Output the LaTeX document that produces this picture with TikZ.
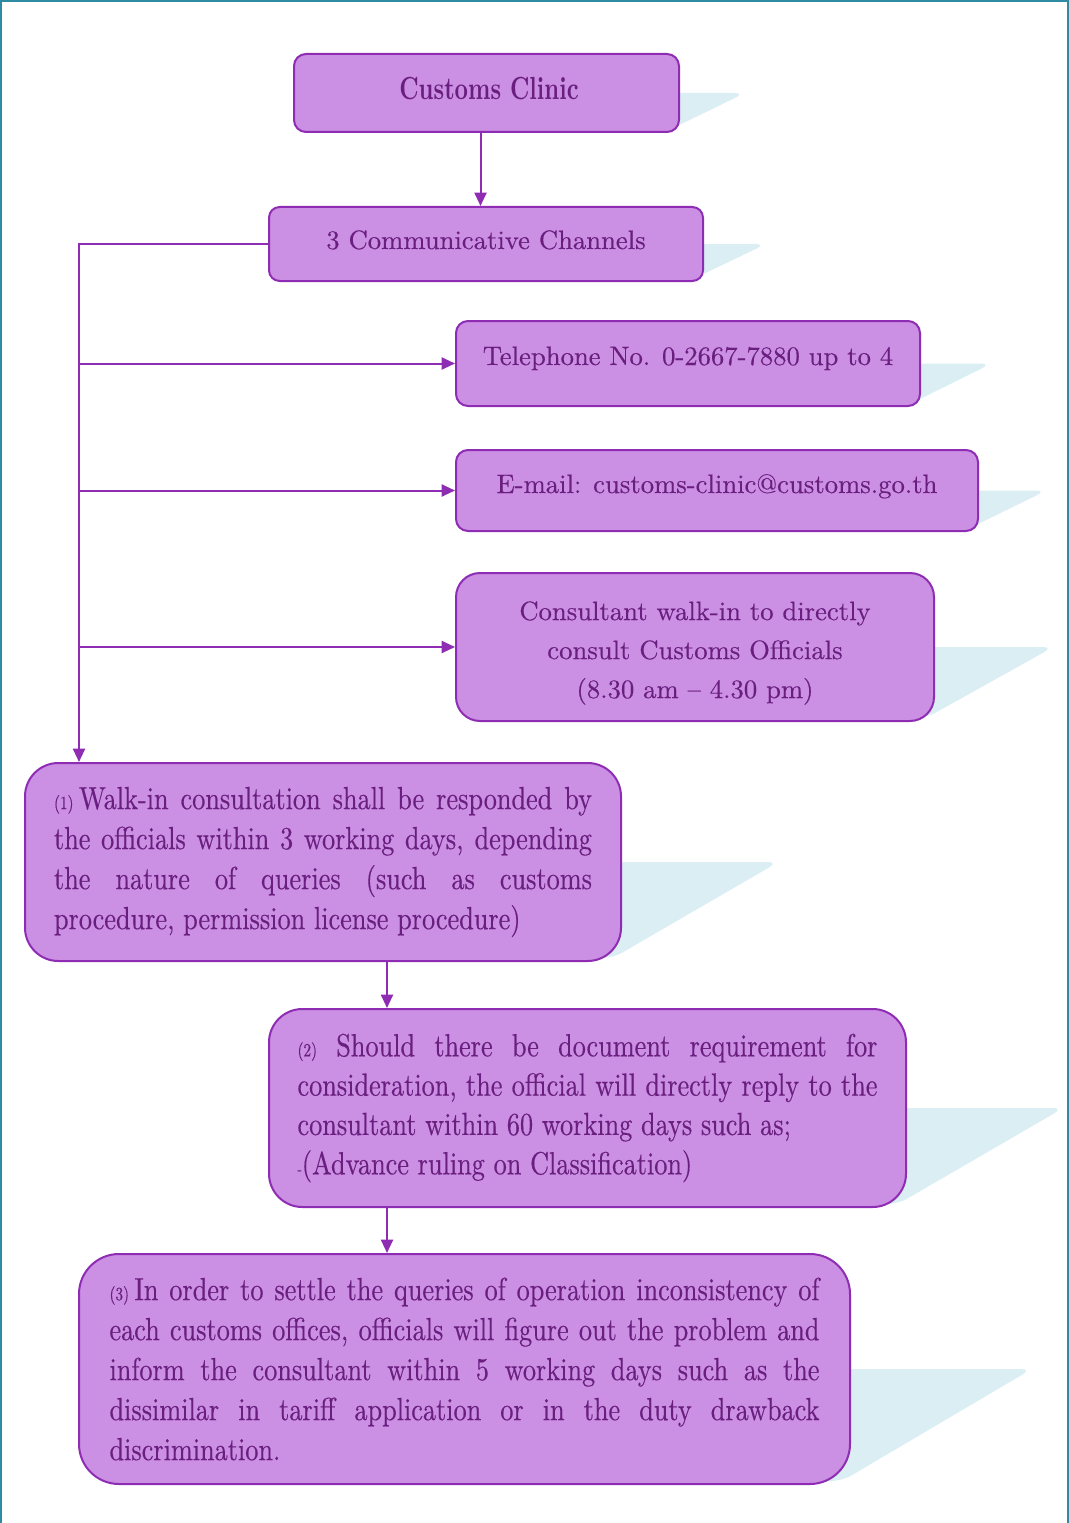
\documentclass[tikz,border=0pt]{standalone}
\usepackage{fontspec}
\setmainfont{lmroman10-regular.otf}[BoldFont=lmroman10-bold.otf, FakeBold=0.35]
\newfontfamily\condf{lmroman10-regular.otf}[FakeStretch=0.82, FakeBold=0.35]
\newfontfamily\titlef{lmroman10-bold.otf}[FakeStretch=0.73]
\usetikzlibrary{arrows.meta}
\definecolor{boxfill}{HTML}{CB8FE3}
\definecolor{boxline}{HTML}{8E2DB3}
\definecolor{boxtext}{HTML}{6A1F80}
\definecolor{shadowc}{HTML}{DBEEF4}
\definecolor{framec}{HTML}{2E8BA3}
\newcommand\shadowfor[4]{% xR, yMid, yBottom, H
  \fill[shad] (#1-60,#2) -- (#1+0.76*#4+7,#2) -- (#1-8,#3-3) -- (#1-60,#3-3) -- cycle;}
\begin{document}
\begin{tikzpicture}[x=0.75pt,y=-0.75pt,
  box/.style={draw=boxline, fill=boxfill, line width=1.5pt, text=boxtext, inner sep=0pt, align=center},
  lbl/.style={text=boxtext, inner sep=0pt, align=center},
  arr/.style={draw=boxline, line width=1.5pt, -{Triangle[length=10pt,width=9pt]}},
  shad/.style={fill=shadowc, rounded corners=8pt},
  bodytext/.style={font=\fontsize{20}{29.25}\selectfont},
  longtext/.style={font=\condf\fontsize{24}{#1}\selectfont, align=justify}]
\useasboundingbox (0,0) rectangle (1069,1523);
\draw[framec, line width=1.5pt] (0.9,1523) -- (0.9,0.9) -- (1068.1,0.9) -- (1068.1,1523);

% shadows
\shadowfor{679}{93}{132}{78}
\shadowfor{703}{244}{281}{74}
\shadowfor{920}{363.5}{406}{85}
\shadowfor{978}{490.5}{531}{81}
\shadowfor{934}{647}{721}{148}
\shadowfor{621}{862}{961}{198}
\shadowfor{906}{1108}{1207}{198}
\shadowfor{850}{1369}{1484}{230}

% boxes
\node[box, rounded corners=9pt, minimum width=385*0.75pt, minimum height=78*0.75pt] (cc) at (486.5,93) {};
\node[lbl, anchor=base, font=\titlef\fontsize{24}{28}\selectfont] (cct) at (489,100) {Customs Clinic};
\node[box, rounded corners=8pt, minimum width=434*0.75pt, minimum height=74*0.75pt] (ch) at (486,244) {};
\node[lbl, bodytext, anchor=base] (cht) at (486,249) {3 Communicative Channels};
\node[box, rounded corners=9pt, minimum width=464*0.75pt, minimum height=85*0.75pt] (tel) at (688,363.5) {};
\node[lbl, bodytext, anchor=base] (telt) at (688,365) {Telephone No. 0-2667-7880 up to 4};
\node[box, rounded corners=9pt, minimum width=522*0.75pt, minimum height=81*0.75pt] (mail) at (717,490.5) {};
\node[lbl, bodytext, anchor=base] (mailt) at (717,493) {E-mail: customs-clinic@customs.go.th};
\node[box, rounded corners=18pt, minimum width=478*0.75pt, minimum height=148*0.75pt] (walk) at (695,647) {};
\node[lbl, bodytext] (walkt) at (695,653)
  {Consultant walk-in to directly\\consult Customs Officials\\(8.30 am -- 4.30 pm)};
\node[box, longtext=30, rounded corners=25pt, minimum width=596*0.75pt, minimum height=198*0.75pt, text width=403.5pt] (b6) at (323,862)
  {{\fontsize{14}{30}\selectfont(1)}\,Walk-in consultation shall be responded by\linebreak the officials within 3 working days, depending\linebreak the nature of queries (such as customs\linebreak procedure, permission license procedure)};
\node[box, longtext=29.5, rounded corners=25pt, minimum width=637*0.75pt, minimum height=198*0.75pt, text width=435pt] (b7) at (587.5,1108)
  {{\fontsize{14}{29.5}\selectfont(2)} Should there be document requirement for\linebreak consideration, the official will directly reply to the\linebreak consultant within 60 working days such as;\\{\fontsize{12}{29.5}\selectfont-}(Advance ruling on Classification)};
\node[box, longtext=30, rounded corners=30pt, minimum width=771*0.75pt, minimum height=230*0.75pt, text width=532.5pt] (b8) at (464.5,1369)
  {{\fontsize{14}{30}\selectfont(3)}\,In order to settle the queries of operation inconsistency of\linebreak each customs offices, officials will figure out the problem and\linebreak inform the consultant within 5 working days such as the\linebreak dissimilar in tariff application or in the duty drawback\linebreak discrimination.};

% connectors
\coordinate (tx) at (79,244);
\coordinate (col) at (387,0);
\draw[arr] ([xshift=-4.5pt]cc.south) -- ([xshift=-4.5pt]cc.south |- ch.north);
\draw[arr] (ch.west) -- (tx) -- (tx |- b6.north);
\draw[arr] (tx |- tel.west) -- (tel.west);
\draw[arr] (tx |- mail.west) -- (mail.west);
\draw[arr] (tx |- walk.west) -- (walk.west);
\draw[arr] (b6.south -| col) -- (b7.north -| col);
\draw[arr] (b7.south -| col) -- (b8.north -| col);
\end{tikzpicture}
\end{document}
